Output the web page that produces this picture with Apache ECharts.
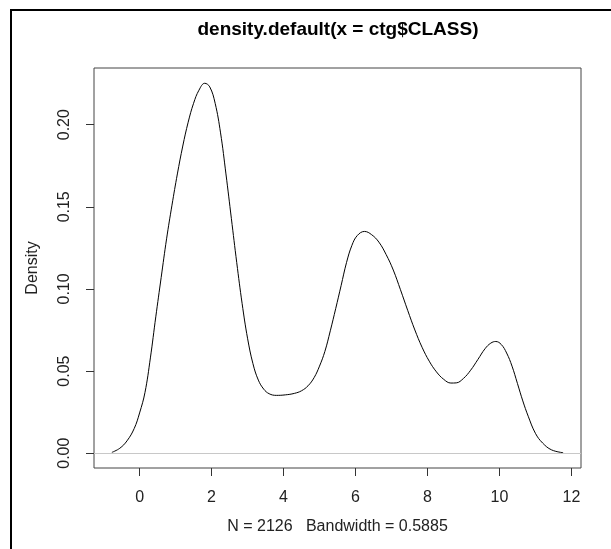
<!DOCTYPE html>
<html>
<head>
<meta charset="utf-8">
<script src="https://cdn.jsdelivr.net/npm/echarts@6/dist/echarts.min.js"></script>
<style>
  html, body { margin: 0; padding: 0; background: #fff; }
  #chart { width: 611px; height: 549px; }
</style>
</head>
<body>
<div id="chart"></div>
<script>
  // density curve
  var xs = [-0.77, -0.55, -0.35, -0.15, 0.00, 0.15, 0.30, 0.45, 0.60, 0.75, 0.90, 1.05, 1.20, 1.35, 1.50, 1.65, 1.81,
            1.95, 2.10, 2.25, 2.40, 2.55, 2.70, 2.85, 3.00, 3.15, 3.30, 3.45, 3.60, 3.80, 4.05, 4.30, 4.50, 4.68,
            4.85, 5.00, 5.15, 5.30, 5.45, 5.60, 5.75, 5.90, 6.05, 6.25, 6.45, 6.65, 6.85, 7.05, 7.25, 7.45, 7.65,
            7.85, 8.05, 8.25, 8.45, 8.65, 8.80, 9.00, 9.20, 9.40, 9.60, 9.76, 9.90, 10.05, 10.20, 10.35, 10.50,
            10.65, 10.80, 11.00, 11.20, 11.45, 11.77];
  var density = [0.0005, 0.0030, 0.0075, 0.0150, 0.0245, 0.0370, 0.0580, 0.0830, 0.1070, 0.1305, 0.1510, 0.1700, 0.1870, 0.2015, 0.2130, 0.2210, 0.2252,
                 0.2230, 0.2130, 0.1950, 0.1700, 0.1430, 0.1160, 0.0910, 0.0700, 0.0545, 0.0445, 0.0390, 0.0362, 0.0352, 0.0355, 0.0364, 0.0380, 0.0410,
                 0.0460, 0.0530, 0.0620, 0.0745, 0.0880, 0.1020, 0.1160, 0.1265, 0.1325, 0.1350, 0.1330, 0.1285, 0.1210, 0.1115, 0.0995, 0.0870, 0.0750,
                 0.0645, 0.0560, 0.0495, 0.0450, 0.0427, 0.0428, 0.0455, 0.0505, 0.0570, 0.0636, 0.0670, 0.0680, 0.0662, 0.0610, 0.0530, 0.0425,
                 0.0318, 0.0225, 0.0121, 0.0062, 0.0020, 0.0003];
  var xTicks = [0, 2, 4, 6, 8, 10, 12];
  var yTicks = [0, 0.05, 0.10, 0.15, 0.20];

  var font = 'Liberation Sans, Arial, sans-serif';
  var myChart = echarts.init(document.getElementById('chart'));
  var option = {
    animation: false,
    title: {
      text: 'density.default(x = ctg$CLASS)',
      left: 338,
      textAlign: 'center',
      top: 20,
      padding: 0,
      textStyle: { fontFamily: font, fontSize: 19, fontWeight: 'bold', color: '#000' }
    },
    graphic: [
      { type: 'line', shape: { x1: 10, y1: 10, x2: 611, y2: 10 }, style: { stroke: '#000', lineWidth: 2 } },
      { type: 'line', shape: { x1: 11, y1: 9, x2: 11, y2: 549 }, style: { stroke: '#000', lineWidth: 2 } }
    ],
    grid: {
      left: 94, right: 30, top: 68, bottom: 81,
      show: true,
      borderColor: '#444',
      borderWidth: 1
    },
    xAxis: {
      type: 'value',
      min: -1.267,
      max: 12.267,
      name: 'N = 2126   Bandwidth = 0.5885',
      nameLocation: 'middle',
      nameGap: 51,
      nameTextStyle: { fontFamily: font, fontSize: 16, color: '#222' },
      axisLine: { show: false, onZero: false },
      axisTick: { show: true, length: 8, customValues: xTicks, lineStyle: { color: '#333' } },
      axisLabel: { customValues: xTicks, margin: 22, fontFamily: font, fontSize: 16, color: '#222' },
      splitLine: { show: false }
    },
    yAxis: {
      type: 'value',
      min: -0.00902,
      max: 0.2345,
      name: 'Density',
      nameLocation: 'middle',
      nameRotate: 90,
      nameGap: 53,
      nameTextStyle: { fontFamily: font, fontSize: 16, color: '#222' },
      axisLine: { show: false, onZero: false },
      axisTick: { show: true, length: 8, customValues: yTicks, lineStyle: { color: '#333' } },
      axisLabel: {
        customValues: yTicks,
        rotate: 90,
        margin: 21,
        fontFamily: font, fontSize: 16, color: '#222',
        formatter: function (v) { return v.toFixed(2); }
      },
      splitLine: { show: false }
    },
    series: [
      {
        type: 'line',
        data: xs.map(function (x, i) { return [x, density[i]]; }),
        smooth: 0.4,
        showSymbol: false,
        lineStyle: { color: '#000', width: 1 },
        markLine: {
          silent: true,
          symbol: 'none',
          label: { show: false },
          lineStyle: { color: '#c8c8c8', width: 1, type: 'solid' },
          data: [{ yAxis: 0 }]
        }
      }
    ]
  };
  myChart.setOption(option);
</script>
</body>
</html>
